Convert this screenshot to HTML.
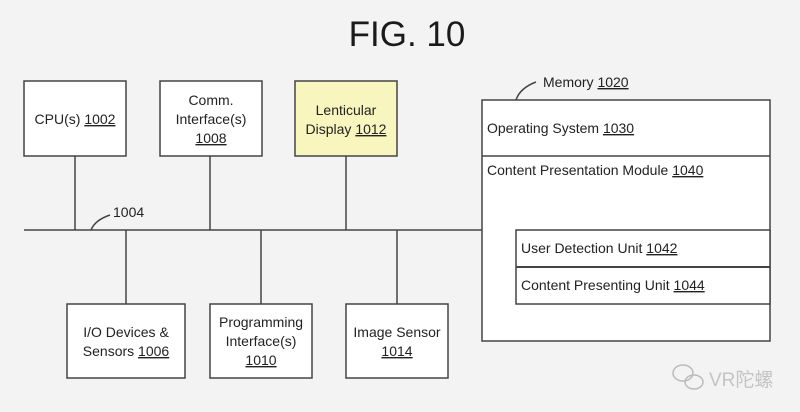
<!DOCTYPE html>
<html><head><meta charset="utf-8"><style>
html,body{margin:0;padding:0;background:#f3f3f3;}
svg{display:block;}
text{font-family:"Liberation Sans","Noto Sans CJK SC",sans-serif;font-size:14px;fill:#222;}
.u{text-decoration:underline;}
</style></head><body>
<svg width="800" height="412" viewBox="0 0 800 412" xmlns="http://www.w3.org/2000/svg">
<rect width="800" height="412" fill="#f3f3f3"/>
<text x="407" y="46" text-anchor="middle" style="font-size:35px;fill:#1a1a1a">FIG. 10</text>
<g stroke="#444" stroke-width="1.5" fill="none">
<line x1="24" y1="230" x2="482" y2="230"/>
<line x1="75" y1="156" x2="75" y2="230"/>
<line x1="210" y1="156" x2="210" y2="230"/>
<line x1="346" y1="156" x2="346" y2="230"/>
<line x1="126" y1="230" x2="126" y2="304"/>
<line x1="261" y1="230" x2="261" y2="304"/>
<line x1="397" y1="230" x2="397" y2="304"/>
<path d="M91 230 Q95 220 110 215"/>
<path d="M516 100 Q520 88 536 82"/>
</g>
<g stroke="#444" stroke-width="1.5">
<rect x="24" y="81" width="102" height="75" fill="#fff"/>
<rect x="160" y="81" width="102" height="75" fill="#fff"/>
<rect x="295" y="81" width="102" height="75" fill="#f9f5bf"/>
<rect x="67" y="304" width="118" height="74" fill="#fff"/>
<rect x="210" y="304" width="102" height="74" fill="#fff"/>
<rect x="346" y="304" width="102" height="74" fill="#fff"/>
<rect x="482" y="100" width="288" height="241" fill="#fff"/>
<line x1="482" y1="156" x2="770" y2="156"/>
<rect x="516" y="230" width="254" height="74" fill="#fff"/>
<line x1="516" y1="267" x2="770" y2="267" stroke-width="2"/>
</g>
<text x="75" y="124" text-anchor="middle">CPU(s) <tspan class="u">1002</tspan></text>
<text x="211" y="105" text-anchor="middle">Comm.</text>
<text x="211" y="124" text-anchor="middle">Interface(s)</text>
<text x="211" y="143" text-anchor="middle" class="u">1008</text>
<text x="346" y="115" text-anchor="middle">Lenticular</text>
<text x="346" y="134" text-anchor="middle">Display <tspan class="u">1012</tspan></text>
<text x="113" y="217">1004</text>
<text x="126" y="337" text-anchor="middle">I/O Devices &amp;</text>
<text x="126" y="356" text-anchor="middle">Sensors <tspan class="u">1006</tspan></text>
<text x="261" y="327" text-anchor="middle">Programming</text>
<text x="261" y="346" text-anchor="middle">Interface(s)</text>
<text x="261" y="365" text-anchor="middle" class="u">1010</text>
<text x="397" y="337" text-anchor="middle">Image Sensor</text>
<text x="397" y="356" text-anchor="middle" class="u">1014</text>
<text x="543" y="87">Memory <tspan class="u">1020</tspan></text>
<text x="487" y="133">Operating System <tspan class="u">1030</tspan></text>
<text x="487" y="175">Content Presentation Module <tspan class="u">1040</tspan></text>
<text x="521" y="253">User Detection Unit <tspan class="u">1042</tspan></text>
<text x="521" y="290">Content Presenting Unit <tspan class="u">1044</tspan></text>
<g stroke="#bbb" stroke-width="1.5" fill="none">
<ellipse cx="683" cy="373" rx="10" ry="8"/>
<ellipse cx="694" cy="382" rx="9" ry="7"/>
</g>
<text x="709" y="386" style="font-size:19px;fill:#c4c4c4">VR陀螺</text>
</svg>
</body></html>
